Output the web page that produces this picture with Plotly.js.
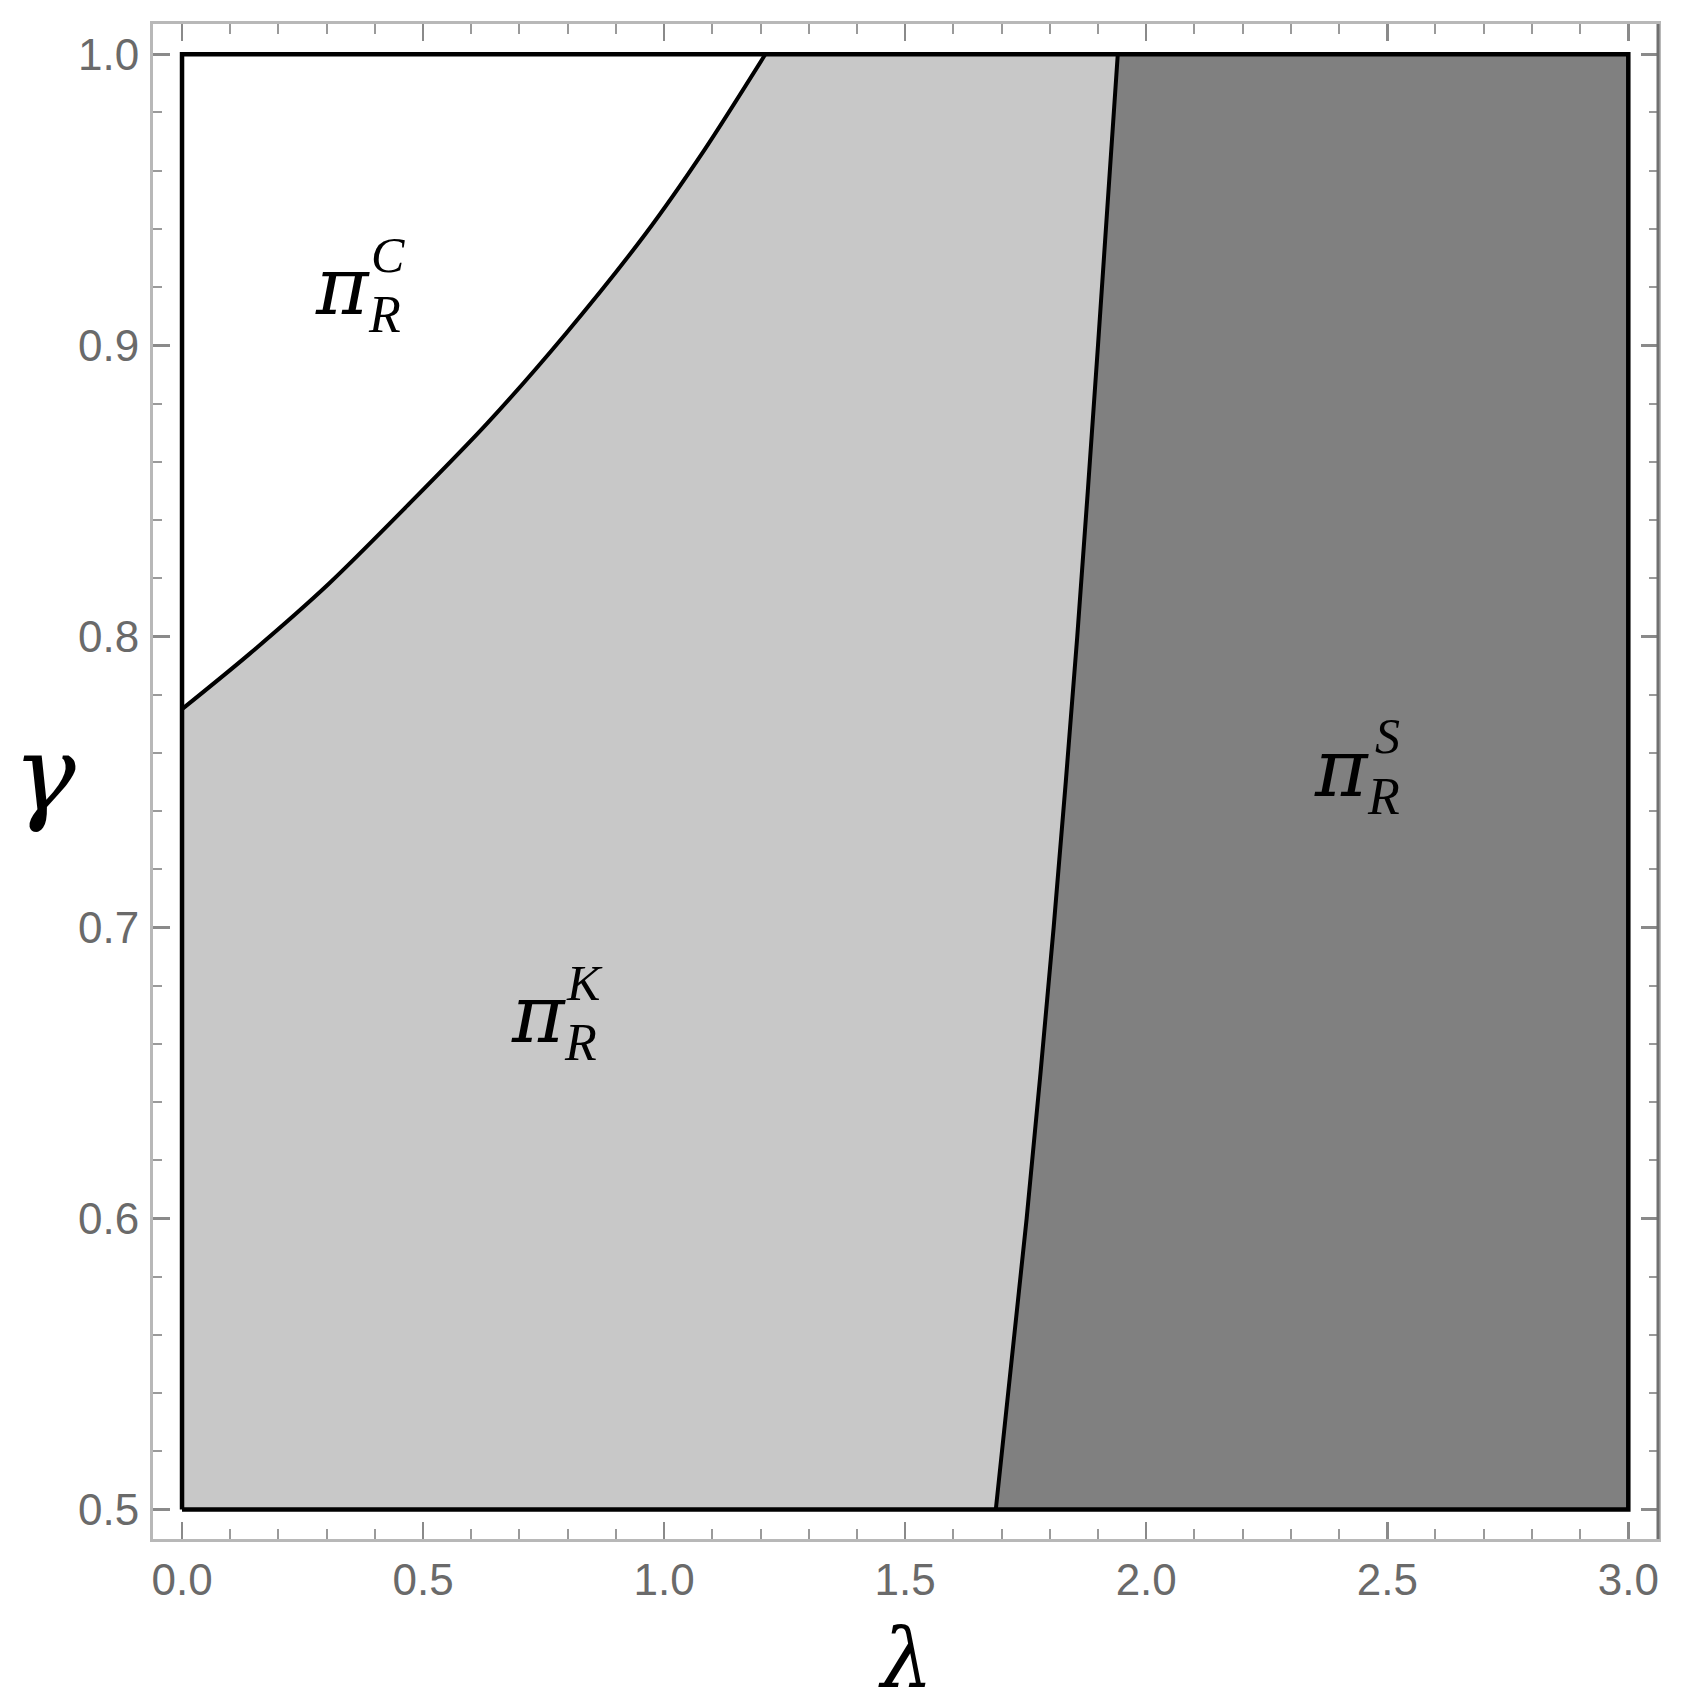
<!DOCTYPE html>
<html>
<head>
<meta charset="utf-8">
<script src="https://cdn.plot.ly/plotly-3.0.1.min.js"></script>
<style>html,body{margin:0;padding:0;background:#fff;}#chart{width:1684px;height:1706px;}</style>
</head>
<body>
<div id="chart"></div>
<script>
// Boundary between the pi_R^C (white) and pi_R^K (light gray) regions
const curve1Lambda = [0, 0.14, 0.304, 0.468, 0.632, 0.796, 0.96, 1.083, 1.21];
const curve1Gamma  = [0.775, 0.794, 0.818, 0.845, 0.873, 0.904, 0.938, 0.967, 1.0];
// Boundary between the pi_R^K (light gray) and pi_R^S (dark gray) regions
const curve2Gamma  = [0.5, 0.6, 0.7, 0.8, 0.9, 1.0];
const curve2Lambda = [1.688, 1.752, 1.808, 1.857, 1.900, 1.941];
// Plotted domain
const lambdaRange = [0, 3];
const gammaRange  = [0.5, 1.0];
// Ticks
const xTickVals   = [0, 0.5, 1.0, 1.5, 2.0, 2.5, 3.0];
const xTickLabels = ["0.0", "0.5", "1.0", "1.5", "2.0", "2.5", "3.0"];
const yTickVals   = [0.5, 0.6, 0.7, 0.8, 0.9, 1.0];
const yTickLabels = ["0.5", "0.6", "0.7", "0.8", "0.9", "1.0"];
// Region labels
const regionSup    = ["C", "K", "S"];
const regionLambda = [0.332, 0.739, 2.405];
const regionGamma  = [0.9187, 0.6687, 0.7533];

const L0 = lambdaRange[0], L1 = lambdaRange[1], G0 = gammaRange[0], G1 = gammaRange[1];

const kX = [L0].concat(curve2Lambda, curve1Lambda.slice().reverse());
const kY = [G0].concat(curve2Gamma, curve1Gamma.slice().reverse());
const sX = curve2Lambda.concat([L1, L1]);
const sY = curve2Gamma.concat([G1, G0]);

const traces = [
  {x: kX, y: kY, type: 'scatter', mode: 'lines', fill: 'toself', fillcolor: '#c8c8c8',
   line: {width: 0, color: '#c8c8c8'}, hoverinfo: 'skip', showlegend: false},
  {x: sX, y: sY, type: 'scatter', mode: 'lines', fill: 'toself', fillcolor: '#808080',
   line: {width: 0, color: '#808080'}, hoverinfo: 'skip', showlegend: false},
  {x: curve1Lambda, y: curve1Gamma, type: 'scatter', mode: 'lines',
   line: {color: '#000', width: 4, shape: 'spline', smoothing: 0.8}, showlegend: false},
  {x: curve2Lambda, y: curve2Gamma, type: 'scatter', mode: 'lines',
   line: {color: '#000', width: 4, shape: 'spline', smoothing: 0.8}, showlegend: false},
  {x: [L0, L1, L1, L0, L0], y: [G0, G0, G1, G1, G0], type: 'scatter', mode: 'lines',
   line: {color: '#000', width: 4.5}, showlegend: false}
];

const annotations = [];
const serif = 'Liberation Serif, Times New Roman, serif';
const greek = 'DejaVu Serif, Liberation Serif, serif';
for (let i = 0; i < regionSup.length; i++) {
  annotations.push({x: regionLambda[i], y: regionGamma[i], xref: 'x', yref: 'y', text: 'π',
    showarrow: false, xanchor: 'center', yanchor: 'middle', yshift: 4,
    font: {family: greek, size: 80, color: '#000', style: 'italic'}});
  annotations.push({x: regionLambda[i], y: regionGamma[i], xref: 'x', yref: 'y', text: regionSup[i],
    showarrow: false, xanchor: 'center', yanchor: 'middle', xshift: 46, yshift: 36,
    font: {family: serif, size: 50, color: '#000', style: 'italic'}});
  annotations.push({x: regionLambda[i], y: regionGamma[i], xref: 'x', yref: 'y', text: 'R',
    showarrow: false, xanchor: 'center', yanchor: 'middle', xshift: 42, yshift: -24,
    font: {family: serif, size: 52, color: '#000', style: 'italic'}});
}
annotations.push({x: -0.072, y: 0.505, xref: 'paper', yref: 'paper', text: 'γ', showarrow: false,
  xanchor: 'center', yanchor: 'middle', font: {family: greek, size: 105, color: '#000', style: 'italic'}});
annotations.push({x: 0.5, y: -0.0462, xref: 'paper', yref: 'paper', text: 'λ', showarrow: false,
  xanchor: 'center', yanchor: 'top', font: {family: greek, size: 82, color: '#000', style: 'italic'}});

const tickFont = {family: 'Liberation Sans, Arial, sans-serif', size: 44, color: '#6a6a6a'};

const layout = {
  width: 1684, height: 1706,
  margin: {l: 153, r: 26, t: 24, b: 167},
  paper_bgcolor: '#fff', plot_bgcolor: '#fff',
  xaxis: {range: [-0.0602, 3.0616], tickvals: xTickVals, ticktext: xTickLabels,
    showgrid: false, zeroline: false, showline: true, linecolor: '#b8b8b8', linewidth: 3,
    mirror: 'ticks', ticks: 'inside', ticklen: 17, tickwidth: 2.5, tickcolor: '#8a8a8a',
    minor: {ticks: 'inside', dtick: 0.1, tick0: 0, ticklen: 10, tickwidth: 2, tickcolor: '#9a9a9a'},
    tickfont: tickFont, ticklabelstandoff: 0, fixedrange: true},
  yaxis: {range: [0.4899, 1.0104], tickvals: yTickVals, ticktext: yTickLabels,
    showgrid: false, zeroline: false, showline: true, linecolor: '#b8b8b8', linewidth: 3,
    mirror: 'ticks', ticks: 'inside', ticklen: 17, tickwidth: 2.5, tickcolor: '#8a8a8a',
    minor: {ticks: 'inside', dtick: 0.02, tick0: 0.5, ticklen: 9, tickwidth: 2, tickcolor: '#9a9a9a'},
    tickfont: tickFont, ticklabelstandoff: 2, fixedrange: true},
  annotations: annotations,
  shapes: [{type: 'line', xref: 'paper', yref: 'paper', x0: 1, x1: 1, y0: 0, y1: 1,
    line: {color: '#707070', width: 3}}],
  showlegend: false
};

Plotly.newPlot('chart', traces, layout, {displayModeBar: false, staticPlot: true});
</script>
</body>
</html>
